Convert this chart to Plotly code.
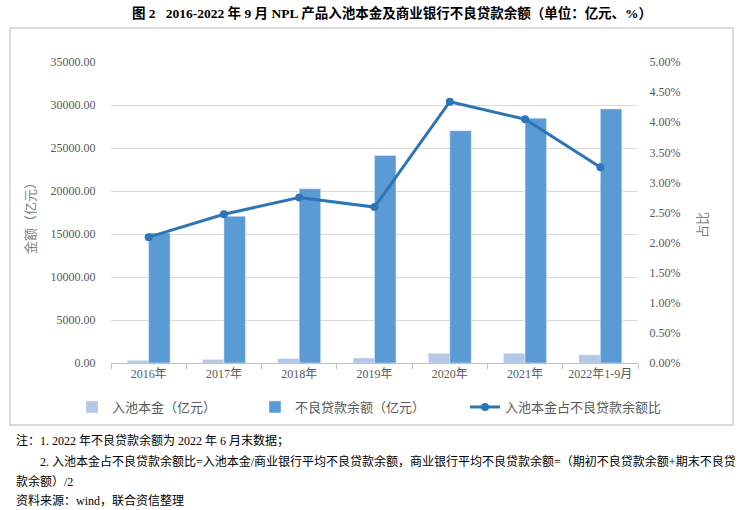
import plotly.graph_objects as go

categories = ["2016年", "2017年", "2018年", "2019年", "2020年", "2021年", "2022年1-9月"]
pool_principal = [295, 397, 513, 575, 1108, 1124, 942]
npl_balance = [15122, 17057, 20254, 24135, 27015, 28470, 29548]
ratio = [0.0209, 0.0247, 0.0275, 0.0259, 0.0434, 0.0405, 0.0325]

FONT = "Liberation Serif, Noto Sans CJK SC, serif"
GRAY = "#595959"

# plot area in pixels
L, R, T, B = 111, 638, 62, 363
W, H = R - L, B - T
def px(x):
    return (x - L) / W
def py(y):
    return (B - y) / H

fig = go.Figure()
fig.add_trace(go.Bar(x=categories, y=pool_principal, name="入池本金（亿元）",
                     marker=dict(color="#B4C7E7"), yaxis="y", legend="legend"))
fig.add_trace(go.Bar(x=categories, y=npl_balance, name="不良贷款余额（亿元）",
                     marker=dict(color="#5B9BD5"), yaxis="y", legend="legend2"))
fig.add_trace(go.Scatter(x=categories, y=ratio, name="入池本金占不良贷款余额比",
                         mode="lines+markers", yaxis="y2", legend="legend3",
                         line=dict(color="#2E75B6", width=3),
                         marker=dict(size=8, color="#2E75B6")))

leg_common = dict(orientation="h", xanchor="left", y=py(407), yanchor="middle",
                  font=dict(size=13, color=GRAY), bgcolor="rgba(0,0,0,0)")

fig.update_layout(
    width=746, height=510,
    margin=dict(l=L, r=746 - R, t=T, b=510 - B, autoexpand=False),
    paper_bgcolor="white", plot_bgcolor="white",
    font=dict(family=FONT, size=12, color=GRAY),
    barmode="group", bargap=0.43, bargroupgap=0,
    showlegend=True,
    legend=dict(x=px(72), **leg_common),
    legend2=dict(x=px(255), **leg_common),
    legend3=dict(x=px(465), **leg_common),
    xaxis=dict(showline=True, linecolor="#BFBFBF", ticks="outside", tickson="boundaries",
               tickcolor="#BFBFBF", ticklen=5, showgrid=False,
               tickfont=dict(size=12, color=GRAY)),
    yaxis=dict(range=[0, 35000], dtick=5000, tickformat=".2f", showgrid=True,
               gridcolor="#D9D9D9", zeroline=False, showline=False,
               ticks="outside", ticklen=12, tickcolor="rgba(0,0,0,0)",
               tickfont=dict(size=12, color=GRAY)),
    yaxis2=dict(range=[0, 0.05], dtick=0.005, tickformat=".2%", overlaying="y", side="right",
                showgrid=False, zeroline=False, showline=False,
                ticks="outside", ticklen=8, tickcolor="rgba(0,0,0,0)",
                tickfont=dict(size=12, color=GRAY)),
)

# outer frame
fig.add_shape(type="rect", xref="paper", yref="paper",
              x0=px(10), x1=px(733), y0=py(425), y1=py(28),
              line=dict(color="#D0D0D0", width=1.5), fillcolor="rgba(0,0,0,0)", layer="above")

# title
fig.add_annotation(xref="paper", yref="paper", x=px(392), y=py(13), showarrow=False,
                   text="<b>图 2   2016-2022 年 9 月 NPL 产品入池本金及商业银行不良贷款余额（单位：亿元、%）</b>",
                   font=dict(size=13.5, color="#000000", family=FONT), xanchor="center", yanchor="middle")

# axis titles
fig.add_annotation(xref="paper", yref="paper", x=px(30), y=py(215), showarrow=False,
                   text="金额（亿元）", textangle=-90,
                   font=dict(size=13, color="#7F7F7F", family=FONT), xanchor="center", yanchor="middle")
fig.add_annotation(xref="paper", yref="paper", x=px(702), y=py(225), showarrow=False,
                   text="占比", textangle=-90,
                   font=dict(size=13, color="#7F7F7F", family=FONT), xanchor="center", yanchor="middle")

notes = [
    (14, 440, "注：1. 2022 年不良贷款余额为 2022 年 6 月末数据；"),
    (38, 461, "2. 入池本金占不良贷款余额比=入池本金/商业银行平均不良贷款余额，商业银行平均不良贷款余额=（期初不良贷款余额+期末不良贷"),
    (14, 481, "款余额）/2"),
    (14, 500, "资料来源：wind，联合资信整理"),
]
for x, y, t in notes:
    fig.add_annotation(xref="paper", yref="paper", x=px(x), y=py(y), showarrow=False,
                       text=t, font=dict(size=12, color="#000000", family=FONT),
                       xanchor="left", yanchor="middle")

fig.write_html("out.html", config={"displayModeBar": False},
               post_script="document.body.style.margin='0';document.body.style.overflow='hidden';")
